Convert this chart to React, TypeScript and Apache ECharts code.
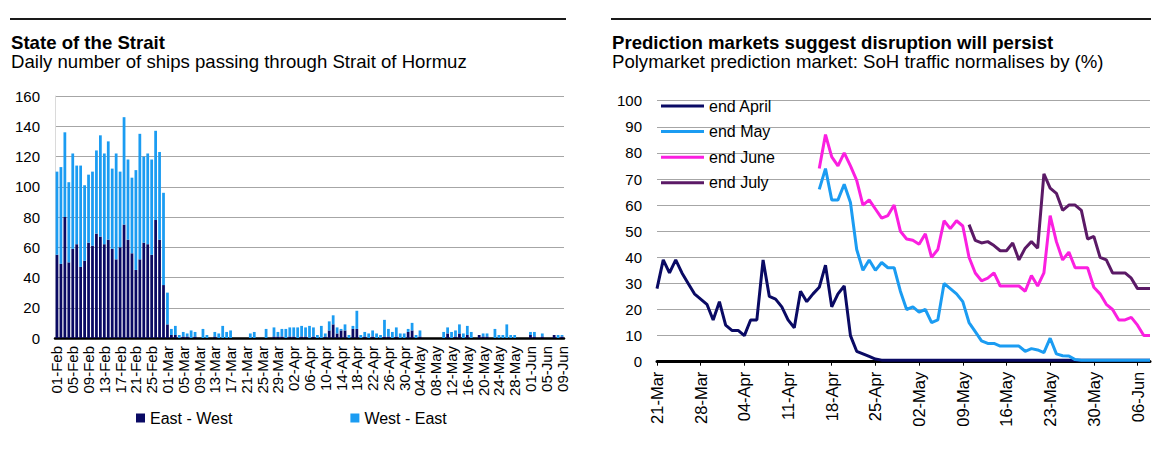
import React, { useEffect, useRef } from "react";
import * as echarts from "echarts";

// ---------- data ----------
const MONTHS = ["Jan", "Feb", "Mar", "Apr", "May", "Jun", "Jul", "Aug", "Sep", "Oct", "Nov", "Dec"];

// Daily date labels "dd-Mon"
function dayLabels(month: number, day: number, count: number): string[] {
  const out: string[] = [];
  for (let i = 0; i < count; i++) {
    const d = new Date(Date.UTC(2026, month, day + i));
    out.push(String(d.getUTCDate()).padStart(2, "0") + "-" + MONTHS[d.getUTCMonth()]);
  }
  return out;
}

// Ship transits, 01-Feb .. 09-Jun
const shipDays = dayLabels(1, 1, 129);

const eastWest = [
  55, 49, 80, 50, 59, 62, 47, 51, 63, 61, 69, 67, 62, 65, 59, 52, 60, 75, 65, 56,
  45, 52, 63, 62, 55, 78, 65, 35, 9, 2, 2, 0, 1, 1, 0, 1, 0, 0, 0, 0,
  1, 0, 0, 0, 0, 0, 0, 0, 0, 0, 0, 0, 0, 0, 0, 1, 1, 1, 0, 1,
  1, 0, 1, 1, 0, 1, 0, 0, 1, 5, 9, 3, 5, 5, 0, 6, 6, 0, 1, 0,
  1, 0, 0, 1, 1, 0, 1, 0, 0, 4, 5, 0, 1, 0, 0, 0, 0, 0, 0, 3,
  0, 1, 3, 0, 2, 0, 0, 2, 1, 1, 0, 0, 0, 0, 0, 0, 0, 0, 0, 0,
  2, 1, 0, 1, 0, 0, 2, 0, 1,
];

const westEast = [
  55, 64, 56, 53, 63, 52, 67, 50, 45, 49, 55, 67, 60, 65, 53, 70, 50, 71, 53, 50,
  66, 83, 57, 60, 63, 59, 58, 61, 21, 4, 6, 2, 3, 2, 5, 3, 0, 6, 2, 0,
  3, 3, 8, 4, 5, 0, 0, 0, 0, 3, 4, 0, 0, 6, 0, 6, 3, 5, 6, 6,
  6, 7, 7, 6, 8, 6, 2, 8, 2, 6, 6, 4, 1, 4, 2, 2, 12, 2, 3, 3,
  4, 3, 2, 11, 5, 4, 6, 3, 3, 2, 5, 2, 4, 0, 0, 0, 0, 0, 4, 4,
  4, 4, 6, 3, 6, 4, 0, 0, 2, 2, 0, 6, 2, 2, 9, 2, 2, 0, 0, 0,
  2, 3, 0, 2, 0, 0, 0, 2, 1,
];

// Polymarket odds, 21-Mar .. 08-Jun
const marketDays = dayLabels(2, 21, 80);

const endApril = [
  28, 39, 34, 39, 34, 30, 26, 24, 22, 16, 23, 14, 12, 12, 10, 16, 16, 39, 25, 24,
  21, 16, 13, 27, 23, 26, 28.5, 37, 21, 26, 29, 10, 4, 3, 2, 1, 0.6, 0.6, 0.6, 0.6,
  0.6, 0.6, 0.6, 0.6, 0.6, 0.6, 0.6, 0.6, 0.6, 0.6, 0.6, 0.6, 0.6, 0.6, 0.6, 0.6, 0.6, 0.6, 0.6, 0.6,
  0.6, 0.6, 0.6, 0.6, 0.6, 0.6, 0.6, 0.6, 0.6, 0.6, 0.6, 0.6, 0.6, 0.6, 0.6, 0.6, 0.6, 0.6, 0.6, 0.6,
];

const endMay = [
  null, null, null, null, null, null, null, null, null, null, null, null, null, null, null, null, null, null, null, null,
  null, null, null, null, null, null, 66, 74, 62, 62, 68, 61, 43, 35, 39, 35, 38, 36, 36, 27,
  20, 21, 19, 20, 15, 16, 30, 28, 26, 23, 15, 11.5, 8, 7, 7, 6, 6, 6, 6, 4,
  5, 4.5, 3.5, 9, 3, 2.3, 2.2, 0.8, 0.6, 0.6, 0.6, 0.6, 0.6, 0.6, 0.6, 0.6, 0.6, 0.6, 0.6, 0.6,
];

const endJune = [
  null, null, null, null, null, null, null, null, null, null, null, null, null, null, null, null, null, null, null, null,
  null, null, null, null, null, null, 74, 87, 78.5, 75, 80, 75, 69.5, 60, 62, 58.5, 55, 56, 60, 50,
  47, 46.5, 45, 49, 40, 43, 54, 51, 54, 52, 40, 34, 31, 32, 34, 29, 29, 29, 29, 27,
  33, 29, 34, 56, 46, 39, 42, 36, 36, 36, 28.5, 26, 22, 20, 16, 16, 17, 14, 10, 10,
];

const endJuly = [
  null, null, null, null, null, null, null, null, null, null, null, null, null, null, null, null, null, null, null, null,
  null, null, null, null, null, null, null, null, null, null, null, null, null, null, null, null, null, null, null, null,
  null, null, null, null, null, null, null, null, null, null, 52.5, 46.5, 45.5, 46, 44.5, 42.5, 42.5, 45.5, 39, 43.5,
  46, 43.5, 72, 66.5, 64.5, 58, 60, 60, 58, 47, 48, 40, 39, 34, 34, 34, 32, 28, 28, 28,
];

// ---------- styling ----------
const FONT = "'Liberation Sans', Arial, sans-serif";
const NAVY = "#0a0a64";
const SKY = "#1b9cf2";
const MAGENTA = "#fb1fe0";
const PURPLE = "#5b1a66";
const GRID = "#a6a6a6";

export default function App() {
  const ref = useRef<HTMLDivElement>(null);

  useEffect(() => {
    if (!ref.current) return;
    const chart = echarts.init(ref.current, null, { renderer: "svg" });

    const lineSeries = (name: string, data: (number | null)[], color: string) => ({
      name,
      type: "line",
      xAxisIndex: 1,
      yAxisIndex: 1,
      data,
      symbol: "none",
      showSymbol: false,
      connectNulls: false,
      lineStyle: { width: 3, color },
      itemStyle: { color },
    });

    const header = (x: number, x2: number, title: string, sub: string) => [
      { type: "line", shape: { x1: x - 1, y1: 19, x2, y2: 19 }, style: { stroke: "#1a1a1a", lineWidth: 2 } },
      {
        type: "text", x, y: 42,
        style: { text: title, fontFamily: FONT, fontSize: 18.6, fontWeight: "bold", fill: "#000", verticalAlign: "middle" },
      },
      {
        type: "text", x, y: 61.5,
        style: { text: sub, fontFamily: FONT, fontSize: 18.6, fill: "#000", verticalAlign: "middle" },
      },
    ];

    chart.setOption({
      animation: false,
      backgroundColor: "#fff",
      textStyle: { fontFamily: FONT, color: "#000" },
      graphic: [
        ...header(11, 566, "State of the Strait", "Daily number of ships passing through Strait of Hormuz"),
        ...header(612, 1151, "Prediction markets suggest disruption will persist", "Polymarket prediction market: SoH traffic normalises by (%)"),
      ],
      legend: [
        {
          data: ["East - West", "West - East"],
          left: 131,
          top: 405,
          itemGap: 118,
          icon: "rect",
          itemWidth: 9,
          itemHeight: 9,
          textStyle: { fontSize: 16, color: "#000", fontFamily: FONT },
        },
        {
          data: ["end April", "end May", "end June", "end July"],
          orient: "vertical",
          left: 656,
          top: 93,
          itemGap: 9.6,
          icon: "rect",
          itemWidth: 43,
          itemHeight: 3,
          textStyle: { fontSize: 16, color: "#000", fontFamily: FONT },
        },
      ],
      grid: [
        { left: 55, top: 96, width: 509, height: 242 },
        { left: 657, top: 100.7, width: 493, height: 261 },
      ],
      xAxis: [
        {
          type: "category",
          gridIndex: 0,
          data: shipDays,
          boundaryGap: true,
          axisLine: { lineStyle: { color: "#000", width: 2.5 } },
          axisTick: { interval: 3, alignWithLabel: true, length: 3, lineStyle: { color: "#000" } },
          axisLabel: { interval: 3, rotate: 90, fontSize: 15, color: "#000", margin: 8 },
        },
        {
          type: "category",
          gridIndex: 1,
          data: marketDays,
          boundaryGap: false,
          axisLine: { lineStyle: { color: "#000", width: 3 } },
          axisTick: { interval: 6, length: 4, lineStyle: { color: "#000" } },
          axisLabel: { interval: 6, rotate: 90, fontSize: 16.5, color: "#000", margin: 10 },
        },
      ],
      yAxis: [
        {
          type: "value",
          gridIndex: 0,
          min: 0,
          max: 160,
          interval: 20,
          axisLine: { show: true, lineStyle: { color: "#dadada" } },
          axisTick: { show: false },
          splitLine: { lineStyle: { color: GRID, width: 1 } },
          axisLabel: { fontSize: 15, color: "#000", margin: 15 },
        },
        {
          type: "value",
          gridIndex: 1,
          min: 0,
          max: 100,
          interval: 10,
          axisLine: { show: false },
          axisTick: { show: false },
          splitLine: { lineStyle: { color: GRID, width: 1 } },
          axisLabel: { fontSize: 15, color: "#000", margin: 15 },
        },
      ],
      series: [
        {
          name: "East - West",
          type: "bar",
          stack: "ships",
          xAxisIndex: 0,
          yAxisIndex: 0,
          data: eastWest,
          barCategoryGap: "30%",
          itemStyle: { color: NAVY },
        },
        {
          name: "West - East",
          type: "bar",
          stack: "ships",
          xAxisIndex: 0,
          yAxisIndex: 0,
          data: westEast,
          barCategoryGap: "30%",
          itemStyle: { color: SKY },
        },
        lineSeries("end April", endApril, NAVY),
        lineSeries("end May", endMay, SKY),
        lineSeries("end June", endJune, MAGENTA),
        lineSeries("end July", endJuly, PURPLE),
      ],
    });

    return () => chart.dispose();
  }, []);

  return (
    <div
      ref={ref}
      style={{ position: "fixed", left: 0, top: 0, width: 1159, height: 450, background: "#fff" }}
    />
  );
}
